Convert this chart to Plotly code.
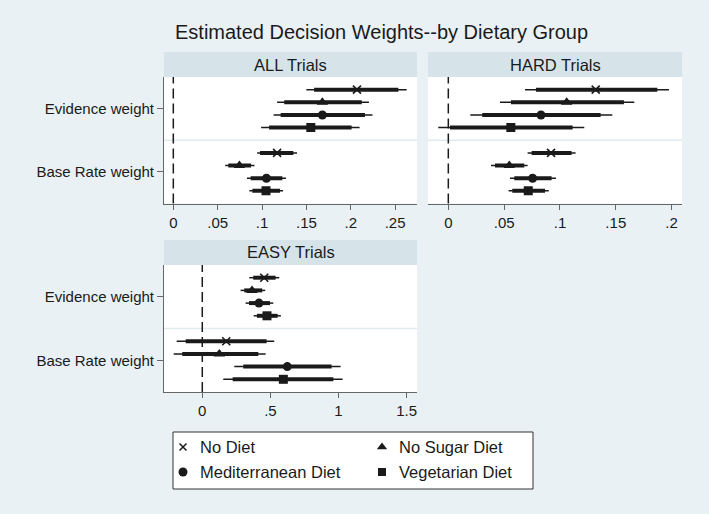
import plotly.graph_objects as go

# ---------------- data ----------------
DIETS = ["No Diet", "No Sugar Diet", "Mediterranean Diet", "Vegetarian Diet"]
PARAMS = ["Evidence weight", "Base Rate weight"]
PANELS = ["ALL Trials", "HARD Trials", "EASY Trials"]

# each list: [evidence weights by diet], [base rate weights by diet]
ALL_EST = [[0.207, 0.168, 0.168, 0.155], [0.117, 0.0745, 0.105, 0.1045]]
ALL_LO95 = [[0.150, 0.117, 0.113, 0.099], [0.0945, 0.0585, 0.083, 0.0857]]
ALL_HI95 = [[0.263, 0.2205, 0.2245, 0.210], [0.1395, 0.0915, 0.127, 0.1237]]
ALL_LO90 = [[0.1587, 0.125, 0.121, 0.108], [0.0977, 0.062, 0.0872, 0.0891]]
ALL_HI90 = [[0.2537, 0.2124, 0.216, 0.201], [0.1353, 0.0876, 0.1229, 0.1203]]

HARD_EST = [[0.132, 0.106, 0.083, 0.056], [0.092, 0.0546, 0.0755, 0.0716]]
HARD_LO95 = [[0.0687, 0.0463, 0.0197, -0.009], [0.071, 0.0382, 0.0552, 0.054]]
HARD_HI95 = [[0.1976, 0.1666, 0.1469, 0.1218], [0.114, 0.071, 0.0964, 0.0899]]
HARD_LO90 = [[0.0785, 0.0561, 0.0304, 0.0015], [0.0746, 0.0418, 0.0591, 0.0573]]
HARD_HI90 = [[0.1872, 0.1573, 0.1364, 0.1113], [0.1104, 0.068, 0.0925, 0.0866]]

EASY_EST = [[0.455, 0.365, 0.416, 0.475], [0.176, 0.125, 0.624, 0.595]]
EASY_LO95 = [[0.345, 0.281, 0.318, 0.377], [-0.188, -0.21, 0.235, 0.154]]
EASY_HI95 = [[0.565, 0.462, 0.521, 0.577], [0.528, 0.465, 1.015, 1.030]]
EASY_LO90 = [[0.374, 0.308, 0.343, 0.401], [-0.122, -0.147, 0.301, 0.223]]
EASY_HI90 = [[0.538, 0.440, 0.497, 0.553], [0.472, 0.411, 0.949, 0.962]]

ALL_TICKS = [0, 0.05, 0.1, 0.15, 0.2, 0.25]
ALL_TICKTEXT = ["0", ".05", ".1", ".15", ".2", ".25"]
HARD_TICKS = [0, 0.05, 0.1, 0.15, 0.2]
HARD_TICKTEXT = ["0", ".05", ".1", ".15", ".2"]
EASY_TICKS = [0, 0.5, 1, 1.5]
EASY_TICKTEXT = ["0", ".5", "1", "1.5"]

TITLE = "Estimated Decision Weights--by Dietary Group"

# ---------------- style ----------------
W, H = 709, 514
BG = "#E9F1F4"
HEADER = "#D6E4EA"
INK = "#1A1A1A"
AXC = "#666666"
FONT = "Liberation Sans, Arial, Helvetica, sans-serif"
SYMBOLS = ["x-thin-open", "triangle-up", "circle", "square"]
MSIZES = [8, 10, 9, 9]
OFFSETS = [-0.3, -0.1, 0.1, 0.3]
PARAM_POS = [1, 2]


def px_x(p):
    return p / W


def px_y(p):
    return 1 - p / H


fig = go.Figure()

panels = [
    ("x", "y", ALL_EST, ALL_LO95, ALL_HI95, ALL_LO90, ALL_HI90),
    ("x2", "y2", HARD_EST, HARD_LO95, HARD_HI95, HARD_LO90, HARD_HI90),
    ("x3", "y3", EASY_EST, EASY_LO95, EASY_HI95, EASY_LO90, EASY_HI90),
]

for xa, ya, est, lo95, hi95, lo90, hi90 in panels:
    for d, diet in enumerate(DIETS):
        thin_x, thin_y, thick_x, thick_y, px, py = [], [], [], [], [], []
        for p in range(len(PARAMS)):
            yy = PARAM_POS[p] + OFFSETS[d]
            thin_x += [lo95[p][d], hi95[p][d], None]
            thin_y += [yy, yy, None]
            thick_x += [lo90[p][d], hi90[p][d], None]
            thick_y += [yy, yy, None]
            px.append(est[p][d])
            py.append(yy)
        fig.add_trace(go.Scatter(x=thin_x, y=thin_y, xaxis=xa, yaxis=ya, mode="lines",
                                 line=dict(color=INK, width=1.5), showlegend=False,
                                 hoverinfo="skip"))
        fig.add_trace(go.Scatter(x=thick_x, y=thick_y, xaxis=xa, yaxis=ya, mode="lines",
                                 line=dict(color=INK, width=4), showlegend=False,
                                 hoverinfo="skip"))
        mk = dict(symbol=SYMBOLS[d], size=MSIZES[d], color=INK,
                  line=dict(color=INK, width=1.6 if d == 0 else 0))
        fig.add_trace(go.Scatter(x=px, y=py, xaxis=xa, yaxis=ya, mode="markers",
                                 marker=mk, name=diet, showlegend=False))

# ---------------- legend (manual, 2 columns) ----------------
LEG_BOX = [173, 533, 432, 489]  # left, right, top, bottom (px)
LEG_COL_X = [183, 382]
LEG_ROW_Y = [447, 472]
LEG_MSIZES = [7, 9, 9, 8]
for d, diet in enumerate(DIETS):
    cx = LEG_COL_X[d % 2]
    cy = LEG_ROW_Y[d // 2]
    fig.add_trace(go.Scatter(x=[cx], y=[cy], xaxis="x4", yaxis="y4", mode="markers",
                             marker=dict(symbol=SYMBOLS[d], size=LEG_MSIZES[d], color=INK,
                                         line=dict(color=INK, width=1.5 if d == 0 else 0)),
                             showlegend=False, hoverinfo="skip"))

# ---------------- layout ----------------
top_y = [px_y(203.5), px_y(77)]
bot_y = [px_y(392), px_y(265)]
left_x = [px_x(164), px_x(417)]
right_x = [px_x(428), px_x(682)]

xcommon = dict(showgrid=False, zeroline=False, showline=True, linecolor=AXC, linewidth=1,
               ticks="outside", ticklen=5, tickcolor=AXC, tickwidth=1,
               tickfont=dict(size=15, color=INK, family=FONT))
ycommon = dict(showgrid=False, zeroline=False, range=[2.5, 0.5],
               tickvals=PARAM_POS, ticktext=PARAMS,
               tickfont=dict(size=15, color=INK, family=FONT))

fig.update_layout(
    width=W, height=H, margin=dict(l=0, r=0, t=0, b=0),
    paper_bgcolor=BG, plot_bgcolor="rgba(0,0,0,0)", showlegend=False,
    font=dict(family=FONT, color=INK),
    xaxis=dict(domain=left_x, anchor="y", range=[-0.0105, 0.2747],
               tickvals=ALL_TICKS, ticktext=ALL_TICKTEXT, **xcommon),
    yaxis=dict(domain=top_y, anchor="x", showline=True, linecolor=AXC, linewidth=1,
               ticks="outside", ticklen=6, tickcolor=AXC, **ycommon),
    xaxis2=dict(domain=right_x, anchor="y2", range=[-0.0182, 0.2093],
                tickvals=HARD_TICKS, ticktext=HARD_TICKTEXT, **xcommon),
    yaxis2=dict(domain=top_y, anchor="x2", showline=False, showticklabels=False,
                ticks="", **ycommon),
    xaxis3=dict(domain=left_x, anchor="y3", range=[-0.281, 1.576],
                tickvals=EASY_TICKS, ticktext=EASY_TICKTEXT, **xcommon),
    yaxis3=dict(domain=bot_y, anchor="x3", showline=True, linecolor=AXC, linewidth=1,
                ticks="outside", ticklen=6, tickcolor=AXC, **ycommon),
    xaxis4=dict(domain=[px_x(LEG_BOX[0]), px_x(LEG_BOX[1])], anchor="y4",
                range=[LEG_BOX[0], LEG_BOX[1]], visible=False, fixedrange=True),
    yaxis4=dict(domain=[px_y(LEG_BOX[3]), px_y(LEG_BOX[2])], anchor="x4",
                range=[LEG_BOX[3], LEG_BOX[2]], visible=False, fixedrange=True),
)

shapes = []
annotations = []
header_h = 25 / 126.5
for (xa, ya), name in zip([("x", "y"), ("x2", "y2"), ("x3", "y3")], PANELS):
    shapes.append(dict(type="rect", xref=f"{xa} domain", yref=f"{ya} domain",
                       x0=0, x1=1, y0=0, y1=1, fillcolor="white",
                       line=dict(width=0), layer="below"))
    shapes.append(dict(type="rect", xref=f"{xa} domain", yref=f"{ya} domain",
                       x0=0, x1=1, y0=1, y1=1 + header_h, fillcolor=HEADER,
                       line=dict(width=0), layer="below"))
    shapes.append(dict(type="line", xref=f"{xa} domain", yref=ya,
                       x0=0, x1=1, y0=1.5, y1=1.5,
                       line=dict(color="#E2EAEE", width=1.5), layer="below"))
    shapes.append(dict(type="line", xref=xa, yref=f"{ya} domain",
                       x0=0, x1=0, y0=0, y1=1,
                       line=dict(color=INK, width=1.5, dash="10px,5px"), layer="below"))
    annotations.append(dict(text=name, xref=f"{xa} domain", yref=f"{ya} domain",
                            x=0.5, y=1 + header_h / 2, showarrow=False,
                            xanchor="center", yanchor="middle",
                            font=dict(size=16.5, color=INK, family=FONT)))

# legend box
shapes.append(dict(type="rect", xref="paper", yref="paper",
                   x0=px_x(LEG_BOX[0]), x1=px_x(LEG_BOX[1]),
                   y0=px_y(LEG_BOX[3]), y1=px_y(LEG_BOX[2]),
                   fillcolor="white", line=dict(color="#333333", width=1), layer="below"))
for d, diet in enumerate(DIETS):
    annotations.append(dict(text=diet, xref="paper", yref="paper",
                            x=px_x(LEG_COL_X[d % 2] + 15), y=px_y(LEG_ROW_Y[d // 2]),
                            showarrow=False, xanchor="left", yanchor="middle",
                            font=dict(size=16.5, color=INK, family=FONT)))

annotations.append(dict(text=TITLE, xref="paper", yref="paper", x=px_x(381), y=px_y(32),
                        showarrow=False, xanchor="center", yanchor="middle",
                        font=dict(size=20, color=INK, family=FONT)))

fig.update_layout(shapes=shapes, annotations=annotations)

fig.write_html("out.html", config={"displayModeBar": False},
               post_script="document.body.style.margin='0';")
